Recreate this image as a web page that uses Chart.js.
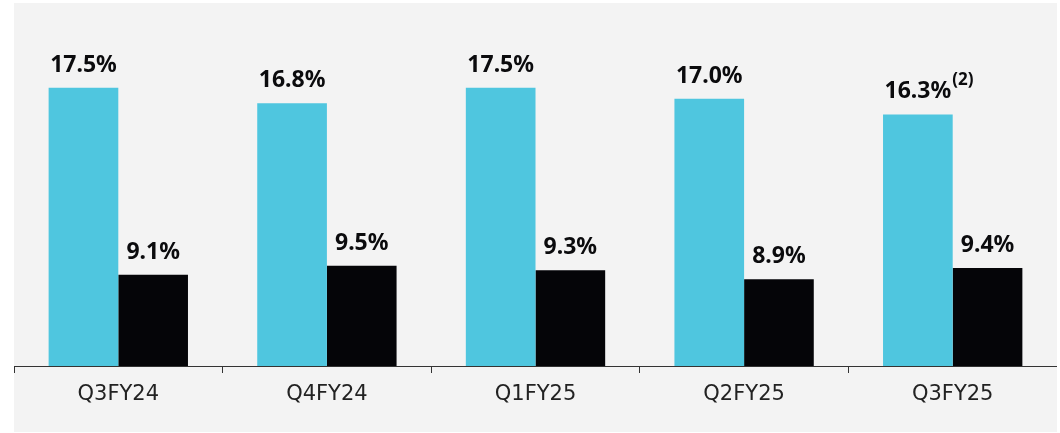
<!DOCTYPE html>
<html lang="en">
<head>
    <meta charset="UTF-8">
    <title>Quarterly margins</title>
    <script src="https://cdn.jsdelivr.net/npm/chart.js"></script>
    <style>
        html, body { margin: 0; padding: 0; background: #ffffff; }
        body { width: 1060px; height: 433px; position: relative; overflow: hidden; }
        #panel { position: absolute; left: 14px; top: 3px; width: 1043px; height: 429px; background: #f3f3f3; }
    </style>
</head>
<body>
    <div id="panel"><canvas id="marginChart" width="1043" height="429"></canvas></div>

    <script>
        // Chart data
        const quarters = ['Q3FY24', 'Q4FY24', 'Q1FY25', 'Q2FY25', 'Q3FY25'];
        const cyanValues = [17.5, 16.8, 17.5, 17.0, 16.3];
        const blackValues = [9.1, 9.5, 9.3, 8.9, 9.4];
        const cyanNotes = ['', '', '', '', '(2)'];
        const blackNotes = ['', '', '', '', ''];

        // Value labels above each bar, with optional superscript footnote
        const barLabels = {
            id: 'barLabels',
            afterDatasetsDraw(chart) {
                const c = chart.ctx;
                chart.data.datasets.forEach((ds, di) => {
                    const meta = chart.getDatasetMeta(di);
                    meta.data.forEach((bar, i) => {
                        const text = ds.data[i].toFixed(1) + '%';
                        const y = bar.y - 16;
                        c.save();
                        c.fillStyle = '#0b0b0d';
                        c.font = 'bold 23px "Noto Sans"';
                        c.textAlign = 'center';
                        c.textBaseline = 'alphabetic';
                        c.fillText(text, bar.x, y);
                        const note = ds.notes[i];
                        if (note) {
                            const w = c.measureText(text).width;
                            c.font = 'bold 17px "Noto Sans"';
                            c.textAlign = 'left';
                            c.fillText(note, bar.x + w / 2 + 1, y - 13);
                        }
                        c.restore();
                    });
                });
            }
        };

        new Chart(document.getElementById('marginChart'), {
            type: 'bar',
            data: {
                labels: quarters,
                datasets: [
                    { data: cyanValues, notes: cyanNotes, backgroundColor: '#4fc6df' },
                    { data: blackValues, notes: blackNotes, backgroundColor: '#050508' }
                ]
            },
            options: {
                responsive: false,
                animation: false,
                layout: { padding: { top: 29, left: 0, right: 0, bottom: 0 } },
                datasets: { bar: { categoryPercentage: 0.668, barPercentage: 1.0 } },
                scales: {
                    x: {
                        afterFit: (s) => { s.height = 66; },
                        grid: { drawOnChartArea: false, drawTicks: true, tickLength: 7, color: '#333333', offset: true },
                        border: { display: true, color: '#333333', width: 1 },
                        ticks: { color: '#222222', font: { family: '"DejaVu Sans"', size: 21 }, padding: 9 }
                    },
                    y: { display: false, min: 5, max: 20 }
                },
                plugins: { legend: { display: false }, tooltip: { enabled: false } }
            },
            plugins: [barLabels]
        });
    </script>
</body>
</html>
